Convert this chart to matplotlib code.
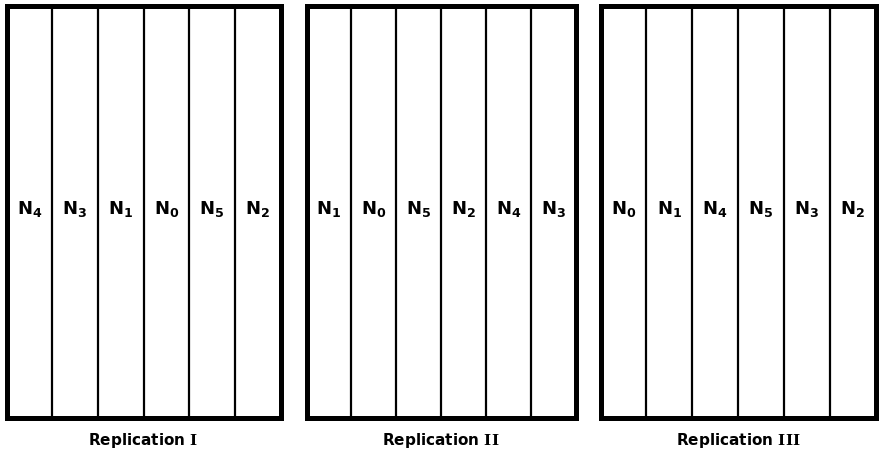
import matplotlib
matplotlib.use("Agg")
import matplotlib.pyplot as plt

# field layout: plot order in each replication
replications = ["I", "II", "III"]
plot_orders = [
    [4, 3, 1, 0, 5, 2],
    [1, 0, 5, 2, 4, 3],
    [0, 1, 4, 5, 3, 2],
]

# roman numerals drawn in a bold serif face, like the scan
plt.rcParams["mathtext.fontset"] = "custom"
plt.rcParams["mathtext.rm"] = "DejaVu Serif:bold"

fig = plt.figure(figsize=(8.81, 4.55), dpi=100)

# box rects in figure fraction (left, bottom, width, height)
boxes = [
    (6.5 / 881, 1 - 417.5 / 455, 274 / 881, 412 / 455),
    (306.5 / 881, 1 - 417.5 / 455, 269 / 881, 412 / 455),
    (600.5 / 881, 1 - 417.5 / 455, 275 / 881, 412 / 455),
]

for rect, num, order in zip(boxes, replications, plot_orders):
    ax = fig.add_axes(rect)
    n = len(order)
    ax.set_xlim(0, n)
    ax.set_ylim(0, 1)
    ax.set_xticks([])
    ax.set_yticks([])
    for s in ax.spines.values():
        s.set_linewidth(3.6)
        s.set_color("black")
    for i in range(1, n):
        ax.axvline(i, color="black", lw=1.6)
    for i, k in enumerate(order):
        ax.text(i + 0.5, 0.505, r"$\mathregular{N_{%d}}$" % k, ha="center", va="center",
                fontsize=13, fontweight="bold")
    ax.text(0.5, -0.055, r"Replication $\mathrm{%s}$" % num, transform=ax.transAxes,
            ha="center", va="center", fontsize=11, fontweight="bold")

fig.savefig("out.png", dpi=100)
